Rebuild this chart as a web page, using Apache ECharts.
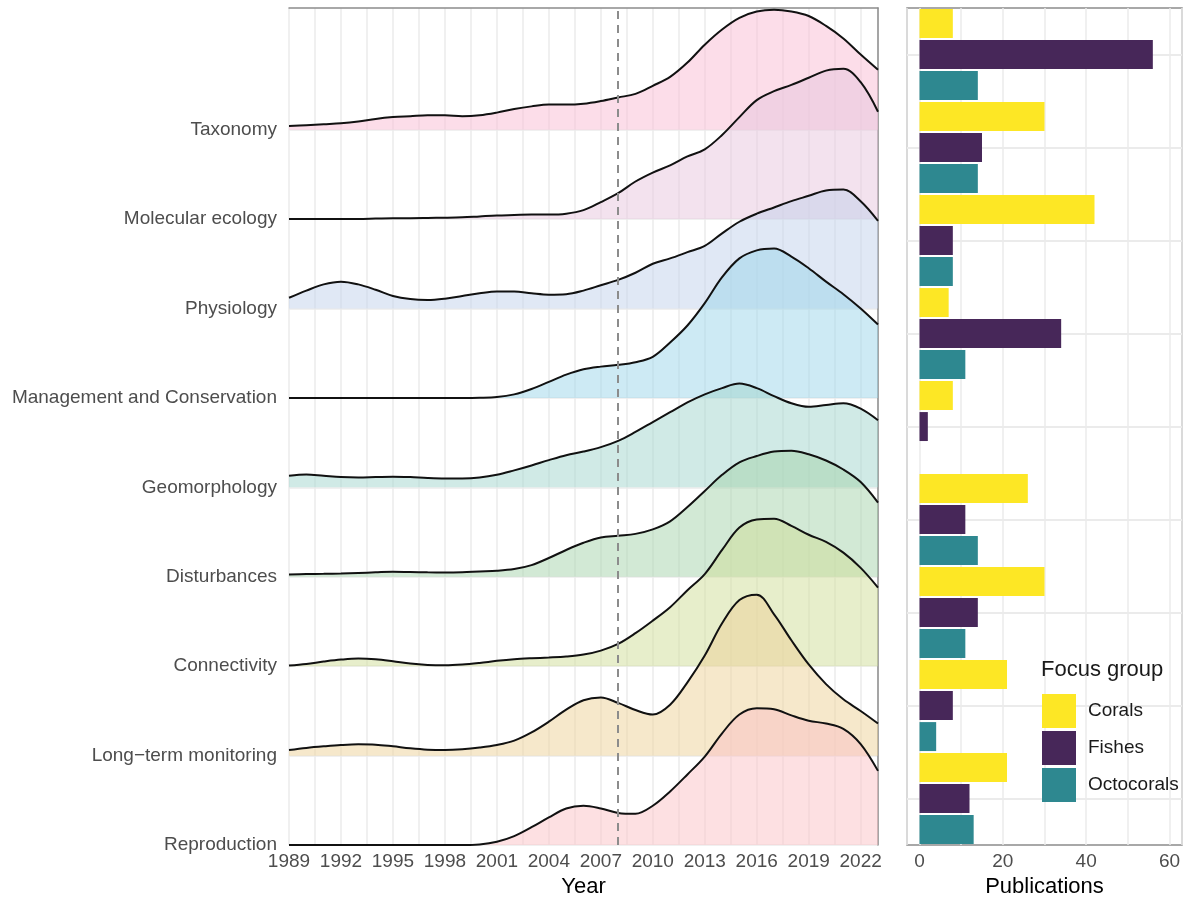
<!DOCTYPE html>
<html>
<head>
<meta charset="utf-8">
<script src="https://cdn.jsdelivr.net/npm/echarts@6/dist/echarts.min.js"></script>
<style>
html, body { margin: 0; padding: 0; background: #fff; }
#chart { width: 1185px; height: 903px; }
</style>
</head>
<body>
<div id="chart"></div>
<script>
// ridge x values (publication year)
var years = [1989, 1990, 1991, 1992, 1993, 1994, 1995, 1996, 1997, 1998, 1999, 2000,
             2001, 2002, 2003, 2004, 2005, 2006, 2007, 2008, 2009, 2010, 2011, 2012,
             2013, 2014, 2015, 2016, 2017, 2018, 2019, 2020, 2021, 2022, 2023];

// topics, top to bottom
var topics = ['Taxonomy', 'Molecular ecology', 'Physiology', 'Management and Conservation',
              'Geomorphology', 'Disturbances', 'Connectivity', 'Long\u2212term monitoring', 'Reproduction'];

// ridge heights (density, in row units) per year
var taxonomy = [0.04, 0.05, 0.06, 0.07, 0.09, 0.12, 0.14, 0.15, 0.16, 0.16, 0.15, 0.16, 0.19, 0.23, 0.26, 0.28, 0.28, 0.29,
                0.32, 0.36, 0.40, 0.49, 0.59, 0.75, 0.95, 1.12, 1.25, 1.32, 1.34, 1.32, 1.27, 1.16, 1.02, 0.84, 0.67];
var molecular = [0, 0, 0, 0, 0, 0.005, 0.01, 0.01, 0.012, 0.015, 0.02, 0.03, 0.04, 0.045, 0.05, 0.05, 0.06, 0.10,
                 0.19, 0.29, 0.42, 0.52, 0.60, 0.70, 0.78, 0.94, 1.14, 1.33, 1.43, 1.50, 1.58, 1.66, 1.68, 1.53, 1.20];
var physiology = [0.12, 0.20, 0.27, 0.30, 0.27, 0.21, 0.14, 0.105, 0.095, 0.11, 0.14, 0.17, 0.19, 0.19, 0.17, 0.155, 0.16, 0.20,
                  0.26, 0.32, 0.40, 0.50, 0.56, 0.63, 0.70, 0.84, 0.97, 1.06, 1.13, 1.20, 1.26, 1.32, 1.33, 1.20, 0.98];
var management = [0, 0, 0, 0, 0, 0, 0, 0, 0, 0, 0, 0.002, 0.01, 0.04, 0.10, 0.18, 0.26, 0.32,
                  0.35, 0.37, 0.40, 0.46, 0.62, 0.81, 1.06, 1.35, 1.56, 1.65, 1.67, 1.58, 1.45, 1.30, 1.16, 1.00, 0.82];
var geomorphology = [0.13, 0.145, 0.13, 0.115, 0.11, 0.115, 0.12, 0.115, 0.105, 0.10, 0.10, 0.11, 0.14, 0.19, 0.245, 0.305, 0.36, 0.40,
                     0.45, 0.52, 0.62, 0.73, 0.84, 0.95, 1.04, 1.11, 1.16, 1.11, 1.02, 0.94, 0.90, 0.92, 0.94, 0.88, 0.75];
var disturbances = [0.026, 0.03, 0.033, 0.037, 0.043, 0.05, 0.056, 0.053, 0.05, 0.049, 0.052, 0.06, 0.067, 0.086, 0.13, 0.21, 0.30, 0.38,
                    0.44, 0.46, 0.48, 0.53, 0.62, 0.78, 0.96, 1.14, 1.28, 1.35, 1.40, 1.41, 1.37, 1.30, 1.20, 1.06, 0.83];
var connectivity = [0.007, 0.026, 0.052, 0.074, 0.086, 0.078, 0.056, 0.03, 0.015, 0.011, 0.019, 0.037, 0.06, 0.078, 0.089, 0.097, 0.108, 0.13,
                    0.175, 0.25, 0.37, 0.51, 0.66, 0.85, 1.03, 1.30, 1.55, 1.64, 1.65, 1.57, 1.47, 1.39, 1.27, 1.10, 0.88];
var longterm = [0.063, 0.086, 0.104, 0.119, 0.127, 0.123, 0.104, 0.082, 0.067, 0.063, 0.071, 0.09, 0.119, 0.168, 0.26, 0.38, 0.515, 0.62,
                0.65, 0.59, 0.51, 0.46, 0.57, 0.82, 1.12, 1.48, 1.74, 1.80, 1.58, 1.29, 1.02, 0.80, 0.63, 0.50, 0.36];
var reproduction = [0, 0, 0, 0, 0, 0, 0, 0, 0, 0, 0, 0.007, 0.037, 0.10, 0.20, 0.31, 0.41, 0.44,
                    0.41, 0.36, 0.35, 0.44, 0.60, 0.79, 0.99, 1.25, 1.46, 1.53, 1.52, 1.45, 1.39, 1.36, 1.30, 1.13, 0.83];

var markYear = 2008;

// publications per focus group, same topic order
var groups = ['Corals', 'Fishes', 'Octocorals'];
var corals = [8, 30, 42, 7, 8, 26, 30, 21, 21];
var fishes = [56, 15, 8, 34, 2, 11, 14, 8, 12];
var octocorals = [14, 14, 8, 11, 0, 14, 11, 4, 13];

var densities = [taxonomy, molecular, physiology, management, geomorphology,
                 disturbances, connectivity, longterm, reproduction];
var ridgeColors = ['#f9bbd3', '#e7c5dd', '#c1d1eb', '#9bd5e9', '#a1d5cd',
                   '#a5d3ab', '#cfdd97', '#edd197', '#fbc1c5'];
var barColors = ['#fde725', '#472759', '#2e8890'];

var FONT = 'Liberation Sans, Arial, sans-serif';
var yTop = 9.36;
var nRows = topics.length;

var chart = echarts.init(document.getElementById('chart'));

var series = topics.map(function (name, i) {
    var base = nRows - 1 - i;
    return {
        type: 'line',
        name: name,
        xAxisIndex: 0,
        yAxisIndex: 0,
        data: years.map(function (y, k) { return [y, base + densities[i][k]]; }),
        smooth: 0.35,
        symbol: 'none',
        showSymbol: false,
        silent: true,
        lineStyle: { color: '#111', width: 2 },
        areaStyle: { origin: base, color: ridgeColors[i], opacity: 0.5 }
    };
});

series[series.length - 1].markLine = {
    silent: true,
    symbol: ['none', 'none'],
    label: { show: false },
    lineStyle: { color: '#8c8c8c', type: [8, 6], width: 2 },
    data: [{ xAxis: markYear }]
};

[corals, fishes, octocorals].forEach(function (vals, g) {
    series.push({
        type: 'bar',
        name: groups[g],
        xAxisIndex: 2,
        yAxisIndex: 2,
        data: vals,
        barGap: '7%',
        barCategoryGap: '2.2%',
        itemStyle: { color: barColors[g] }
    });
});

var hLines = topics.map(function () { return '#ebebeb'; }).concat(['rgba(0,0,0,0)', 'rgba(0,0,0,0)']);

chart.setOption({
    animation: false,
    textStyle: { fontFamily: FONT },
    title: {
        text: 'Focus group',
        left: 1041, top: 659, padding: 0,
        textStyle: { fontSize: 22, fontWeight: 'normal', color: '#1a1a1a', fontFamily: FONT }
    },
    legend: {
        data: groups,
        orient: 'vertical',
        left: 1042, top: 694,
        padding: 0,
        itemWidth: 34, itemHeight: 34, itemGap: 3,
        icon: 'rect',
        textStyle: { fontSize: 19, color: '#1a1a1a', fontFamily: FONT, padding: [0, 0, 0, 7] }
    },
    grid: [
        { left: 289, right: 307, top: 8, bottom: 55 },
        { left: 907, right: 1, top: 8, bottom: 55, show: true, borderColor: '#8c8c8c', borderWidth: 1.5 }
    ],
    xAxis: [
        {
            gridIndex: 0, type: 'value', min: years[0], max: years[years.length - 1], interval: 1.5,
            name: 'Year', nameLocation: 'middle', nameGap: 29,
            nameTextStyle: { fontSize: 22, color: '#000', fontFamily: FONT },
            axisLine: { show: false }, axisTick: { show: false },
            axisLabel: {
                color: '#4d4d4d', fontSize: 19, margin: 7, fontFamily: FONT,
                formatter: function (v) {
                    var d = v - years[0];
                    return Math.abs(d % 3) < 1e-6 ? String(v) : '';
                }
            },
            splitLine: { show: true, lineStyle: { color: '#ebebeb', width: 1.5 } }
        },
        {
            gridIndex: 0, type: 'value', position: 'top', min: years[0], max: years[years.length - 1],
            axisLine: { show: true, onZero: false, lineStyle: { color: '#8c8c8c', width: 1.5 } },
            axisTick: { show: false }, axisLabel: { show: false }, splitLine: { show: false }
        },
        {
            gridIndex: 1, type: 'value', min: -3, max: 63, splitNumber: 7, minInterval: 10, maxInterval: 10,
            name: 'Publications', nameLocation: 'middle', nameGap: 29,
            nameTextStyle: { fontSize: 22, color: '#000', fontFamily: FONT },
            axisLine: { show: false }, axisTick: { show: false },
            axisLabel: {
                color: '#4d4d4d', fontSize: 19, margin: 7, fontFamily: FONT,
                formatter: function (v) {
                    return (v >= 0 && v % 20 === 0) ? String(v) : '';
                }
            },
            splitLine: { show: true, lineStyle: { color: '#ebebeb', width: 1.5 } }
        }
    ],
    yAxis: [
        {
            gridIndex: 0, type: 'value', min: 0, max: yTop, interval: 1,
            axisLine: { show: false }, axisTick: { show: false },
            axisLabel: {
                color: '#4d4d4d', fontSize: 19, margin: 12, fontFamily: FONT,
                formatter: function (v) {
                    var i = Math.round(v);
                    if (Math.abs(v - i) > 1e-6 || i >= nRows) return '';
                    return topics[nRows - 1 - i];
                }
            },
            splitLine: { show: true, lineStyle: { color: hLines, width: 1.5 } }
        },
        {
            gridIndex: 0, type: 'value', position: 'right', min: 0, max: yTop,
            axisLine: { show: true, onZero: false, lineStyle: { color: '#8c8c8c', width: 1.5 } },
            axisTick: { show: false }, axisLabel: { show: false }, splitLine: { show: false }
        },
        {
            gridIndex: 1, type: 'category', data: topics, inverse: true,
            axisLine: { show: false }, axisTick: { show: false }, axisLabel: { show: false },
            splitLine: { show: true, alignWithLabel: true, lineStyle: { color: '#ebebeb', width: 2 } }
        }
    ],
    series: series
});
</script>
</body>
</html>
